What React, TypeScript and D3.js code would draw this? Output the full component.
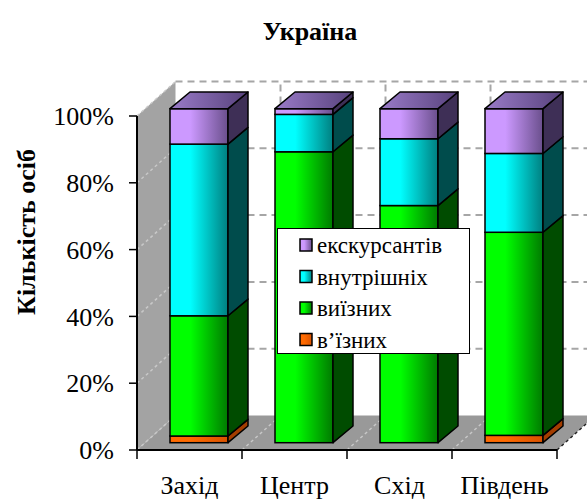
import React from "react";
import { scaleBand, scaleLinear, stack, stackOffsetExpand } from "d3";

// chart data (percent shares per region)
const categories = ["Захід", "Центр", "Схід", "Південь"];
const seriesKeys = ["entry", "exit", "domestic", "excursion"];
const seriesNames = ["в’їзних", "виїзних", "внутрішніх", "екскурсантів"];
const entryValues = [2, 0, 0, 2.2];
const exitValues = [36, 87.1, 71, 60.8];
const domesticValues = [51.4, 11.2, 20, 23.6];
const excursionValues = [10.6, 1.7, 9, 13.4];
const yTicks = [0, 0.2, 0.4, 0.6, 0.8, 1];

const palette: Record<string, { light: string; dark: string; side: string; topA: string; topB: string }> = {
  entry: { light: "#ff6a00", dark: "#d95200", side: "#a33d00", topA: "#ff8c40", topB: "#c04a00" },
  exit: { light: "#00ff00", dark: "#007a00", side: "#004c00", topA: "#33dd33", topB: "#007000" },
  domestic: { light: "#00ffff", dark: "#007f80", side: "#004c4c", topA: "#33cccc", topB: "#006666" },
  excursion: { light: "#cc99ff", dark: "#6a4f8c", side: "#3e2f56", topA: "#9a7bc8", topB: "#57427c" },
};

const font = "Liberation Serif, Tinos, Times New Roman, DejaVu Serif, serif";

export default function App() {
  const width = 587;
  const height = 500;

  const rows = categories.map((c, i) => ({
    cat: c,
    entry: entryValues[i],
    exit: exitValues[i],
    domestic: domesticValues[i],
    excursion: excursionValues[i],
  }));
  const layers = stack<any>().keys(seriesKeys).offset(stackOffsetExpand)(rows);

  const x = scaleBand<string>().domain(categories).range([137, 557]);
  const y = scaleLinear().domain([0, 1]).range([450, 116]);

  // 3D depth of walls and bars
  const wd = [38.5, -34.5];
  const bo = [9.5, -7.3];
  const bd = [20, -16.7];
  const barW = 58;

  const pts = (p: number[][]) => p.map((d) => d.join(",")).join(" ");
  const boundaries = [137, 242, 347, 452, 557];

  const bars = categories.map((c, ci) => {
    const fx = (x(c) as number) + (x.bandwidth() - barW) / 2 + bo[0];
    const segs = layers
      .map((l) => ({ key: l.key, lo: l[ci][0], hi: l[ci][1] }))
      .filter((s) => s.hi - s.lo > 0.0001);
    return segs.map((s, si) => {
      const yb = y(s.lo) + bo[1];
      const yt = y(s.hi) + bo[1];
      const p = palette[s.key];
      const isTop = si === segs.length - 1;
      return (
        <g key={c + s.key}>
          <rect x={fx} y={yt} width={barW} height={yb - yt} fill={`url(#front-${s.key})`} stroke="#000" strokeWidth={1.5} />
          <polygon
            points={pts([[fx + barW, yb], [fx + barW + bd[0], yb + bd[1]], [fx + barW + bd[0], yt + bd[1]], [fx + barW, yt]])}
            fill={p.side}
            stroke="#000"
            strokeWidth={1.5}
            strokeLinejoin="round"
          />
          {isTop && (
            <polygon
              points={pts([[fx, yt], [fx + bd[0], yt + bd[1]], [fx + barW + bd[0], yt + bd[1]], [fx + barW, yt]])}
              fill={`url(#top-${s.key})`}
              stroke="#000"
              strokeWidth={1.5}
              strokeLinejoin="round"
            />
          )}
        </g>
      );
    });
  });

  const legendItems = [...seriesKeys].reverse();

  return (
    <svg width={width} height={height} style={{ position: "absolute", left: 0, top: 0, background: "#fff", fontFamily: font }}>
      <defs>
        {seriesKeys.map((k) => (
          <React.Fragment key={k}>
            <linearGradient id={`front-${k}`} x1="0" x2="1" y1="0" y2="0">
              <stop offset="0%" stopColor={palette[k].light} />
              <stop offset="35%" stopColor={palette[k].light} />
              <stop offset="100%" stopColor={palette[k].dark} />
            </linearGradient>
            <linearGradient id={`top-${k}`} x1="0" x2="1" y1="0" y2="0">
              <stop offset="0%" stopColor={palette[k].topA} />
              <stop offset="100%" stopColor={palette[k].topB} />
            </linearGradient>
          </React.Fragment>
        ))}
      </defs>

      <text x={310} y={40} textAnchor="middle" fontSize={26} fontWeight="bold" style={{ fontFamily: font }}>Україна</text>

      {/* back wall grid */}
      {yTicks.slice(1).map((t) => (
        <line key={"bg" + t} x1={137 + wd[0]} x2={width} y1={y(t) + wd[1]} y2={y(t) + wd[1]} stroke="#a6a6a6" strokeWidth={2} strokeDasharray="7,5" />
      ))}
      {boundaries.slice(1, 4).map((b) => (
        <line key={"vg" + b} x1={b + wd[0]} x2={b + wd[0]} y1={y(0) + wd[1]} y2={y(1) + wd[1]} stroke="#a6a6a6" strokeWidth={2} strokeDasharray="7,5" />
      ))}

      {/* left wall */}
      <polygon points={pts([[137, 450], [137, 116], [137 + wd[0], 116 + wd[1]], [137 + wd[0], 450 + wd[1]]])} fill="#a3a3a3" />
      {yTicks.map((t) => (
        <line key={"lw" + t} x1={137} y1={y(t)} x2={137 + wd[0]} y2={y(t) + wd[1]} stroke="#c8c8c8" strokeWidth={1.5} strokeDasharray="3,3" />
      ))}

      {/* floor */}
      <polygon points={pts([[137, 450], [557, 450], [557 + wd[0], 450 + wd[1]], [137 + wd[0], 450 + wd[1]]])} fill="#999999" />
      {boundaries.map((b) => (
        <line key={"fl" + b} x1={b} y1={450} x2={b + wd[0]} y2={450 + wd[1]} stroke={b === 557 ? "#222" : "#c8c8c8"} strokeWidth={1.5} strokeDasharray="3,3" />
      ))}

      {bars}

      {/* axes */}
      <line x1={137} x2={137} y1={116} y2={450} stroke="#000" strokeWidth={2} />
      <line x1={137} x2={557} y1={450} y2={450} stroke="#000" strokeWidth={2} />
      {yTicks.map((t) => (
        <g key={"yt" + t}>
          <line x1={129} x2={137} y1={y(t)} y2={y(t)} stroke="#000" strokeWidth={1.5} />
          <text x={114} y={y(t)} dy="0.35em" textAnchor="end" fontSize={26} style={{ fontFamily: font }}>{Math.round(t * 100)}%</text>
        </g>
      ))}
      {boundaries.map((b) => (
        <line key={"xt" + b} x1={b} x2={b} y1={450} y2={459} stroke="#000" strokeWidth={1.5} />
      ))}
      {categories.map((c) => (
        <text key={"xl" + c} x={(x(c) as number) + x.bandwidth() / 2} y={494} textAnchor="middle" fontSize={26} style={{ fontFamily: font }}>{c}</text>
      ))}
      <text transform="translate(35,232) rotate(-90)" textAnchor="middle" fontSize={26} fontWeight="bold" style={{ fontFamily: font }}>Кількість осіб</text>

      {/* legend */}
      <rect x={277.5} y={228.5} width={192} height={125} fill="#fff" stroke="#000" strokeWidth={1} />
      {legendItems.map((k, i) => {
        const cy = 245 + i * 31.5;
        return (
          <g key={"lg" + k}>
            <rect x={300} y={cy - 6} width={12} height={12} fill={`url(#front-${k})`} stroke="#000" strokeWidth={1.5} />
            <text x={317} y={cy} dy="0.35em" fontSize={23} style={{ fontFamily: font }}>{seriesNames[seriesKeys.indexOf(k)]}</text>
          </g>
        );
      })}
    </svg>
  );
}
